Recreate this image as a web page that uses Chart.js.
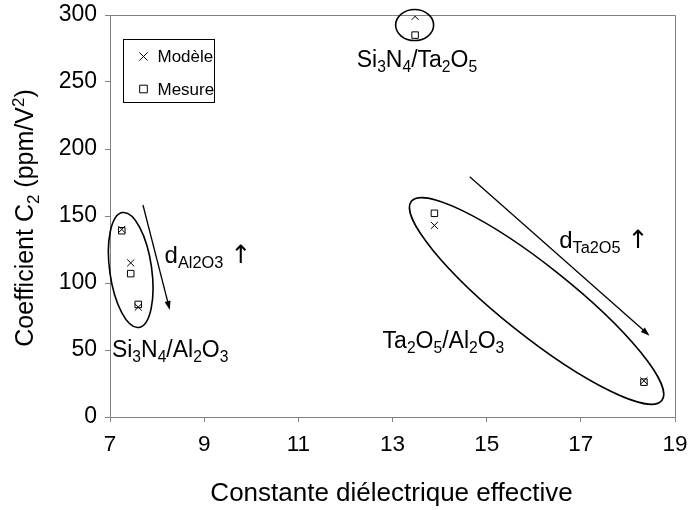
<!DOCTYPE html>
<html><head><meta charset="utf-8">
<script src="https://cdn.jsdelivr.net/npm/chart.js@4.4.0/dist/chart.umd.min.js"></script>
<style>html,body{margin:0;padding:0;background:#fff}#wrap{width:689px;height:510px}</style>
</head><body><div id="wrap"><canvas id="c" width="689" height="510"></canvas></div>
<script>
// ---- data ----
const seriesNames = ['Modèle', 'Mesure'];
const modeleX = [7.25, 7.44, 7.60, 13.48, 13.89, 18.34];
const modeleY = [140, 115, 82, 299, 143, 27];
const mesureX = [7.25, 7.44, 7.60, 13.48, 13.89, 18.34];
const mesureY = [139, 107, 84, 285, 152, 26];
const xTicks = [7, 9, 11, 13, 15, 17, 19];
const yTicks = [0, 50, 100, 150, 200, 250, 300];
const xTitle = 'Constante diélectrique effective';
const yTitle = [['Coefficient C', 0], ['2', -1], [' (ppm/V', 0], ['2', 1], [')', 0]];

const FONT = 'Arial, "Liberation Sans", sans-serif';
const AX = '#808080';

// annotation descriptions (data coordinates for anchors)
const ellipses = [
  {x: 7.44, y: 109.7, rx: 21, ry: 58, rot: -0.14},
  {x: 13.47, y: 292.5, rx: 19, ry: 15.5, rot: 0},
  {x: 16.06, y: 86.6, rx: 160, ry: 35, rot: 0.672}
];
const arrows = [
  {x1: 7.70, y1: 158.2, x2: 8.27, y2: 79.9},
  {x1: 14.64, y1: 179.3, x2: 18.46, y2: 60.7}
];
const labels = [
  {x: 12.24, y: 261.4, size: 23, parts: [['Si',0],['3',-1],['N',0],['4',-1],['/Ta',0],['2',-1],['O',0],['5',-1]]},
  {x: 7.04, y: 44.8, size: 23, parts: [['Si',0],['3',-1],['N',0],['4',-1],['/Al',0],['2',-1],['O',0],['3',-1]]},
  {x: 12.79, y: 51.5, size: 23, parts: [['Ta',0],['2',-1],['O',0],['5',-1],['/Al',0],['2',-1],['O',0],['3',-1]]},
  {x: 8.16, y: 115, size: 24, parts: [['d',0],['Al2O3',-1],[' ',0],['\u2191',2]]},
  {x: 16.54, y: 126, size: 24, parts: [['d',0],['Ta2O5',-1],[' ',0],['\u2191',2]]}
];

function drawRich(ctx, parts, x, y, size, measureOnly) {
  let cx = x;
  for (const [t, m] of parts) {
    let s = size, dy = 0, fam = FONT;
    if (m === -1) { s = size * 0.68; dy = size * 0.22; }
    else if (m === 1) { s = size * 0.68; dy = -size * 0.38; }
    else if (m === 2) { s = size * 1.05; fam = '"DejaVu Sans", sans-serif'; }
    ctx.font = s + 'px ' + fam;
    if (!measureOnly) ctx.fillText(t, cx, y + dy);
    cx += ctx.measureText(t).width;
  }
  return cx - x;
}

function drawMarker(ctx, style, x, y, r) {
  ctx.beginPath();
  if (style === 'crossRot') {
    const d = r * Math.cos(Math.PI / 4);
    ctx.moveTo(x - d, y - d); ctx.lineTo(x + d, y + d);
    ctx.moveTo(x - d, y + d); ctx.lineTo(x + d, y - d);
  } else {
    const s = r / Math.SQRT2;
    ctx.rect(x - s, y - s, 2 * s, 2 * s);
  }
  ctx.stroke();
}

const deco = {
  id: 'deco',
  afterDraw(chart) {
    const ctx = chart.ctx, a = chart.chartArea;
    const xs = chart.scales.x, ys = chart.scales.y;
    ctx.save();
    // frame top/right
    ctx.strokeStyle = AX; ctx.lineWidth = 1;
    ctx.beginPath();
    ctx.moveTo(a.left, a.top + 0.5); ctx.lineTo(a.right + 0.5, a.top + 0.5); ctx.lineTo(a.right + 0.5, a.bottom);
    ctx.stroke();
    // ellipses
    ctx.strokeStyle = '#000'; ctx.lineWidth = 1.6;
    for (const e of ellipses) {
      ctx.beginPath();
      ctx.ellipse(xs.getPixelForValue(e.x), ys.getPixelForValue(e.y), e.rx, e.ry, e.rot, 0, Math.PI * 2);
      ctx.stroke();
    }
    // arrows
    ctx.lineWidth = 1.3;
    for (const ar of arrows) {
      const x1 = xs.getPixelForValue(ar.x1), y1 = ys.getPixelForValue(ar.y1);
      const x2 = xs.getPixelForValue(ar.x2), y2 = ys.getPixelForValue(ar.y2);
      const ang = Math.atan2(y2 - y1, x2 - x1);
      const L = 9, W = 3;
      ctx.beginPath(); ctx.moveTo(x1, y1);
      ctx.lineTo(x2 - Math.cos(ang) * L * 0.6, y2 - Math.sin(ang) * L * 0.6); ctx.stroke();
      ctx.beginPath();
      ctx.moveTo(x2, y2);
      ctx.lineTo(x2 - Math.cos(ang) * L - Math.sin(ang) * W, y2 - Math.sin(ang) * L + Math.cos(ang) * W);
      ctx.lineTo(x2 - Math.cos(ang) * L + Math.sin(ang) * W, y2 - Math.sin(ang) * L - Math.cos(ang) * W);
      ctx.closePath(); ctx.fillStyle = '#000'; ctx.fill();
    }
    // labels
    ctx.fillStyle = '#000'; ctx.textBaseline = 'alphabetic'; ctx.textAlign = 'left';
    for (const l of labels) {
      drawRich(ctx, l.parts, xs.getPixelForValue(l.x), ys.getPixelForValue(l.y), l.size);
    }
    // x title
    ctx.font = '26px ' + FONT; ctx.textAlign = 'center';
    ctx.fillText(xTitle, (a.left + a.right) / 2 - 1, 501);
    // y title
    ctx.save();
    ctx.translate(33, (a.top + a.bottom) / 2 + 2);
    ctx.rotate(-Math.PI / 2);
    ctx.textAlign = 'left';
    const w = drawRich(ctx, yTitle, 0, 0, 25, true);
    drawRich(ctx, yTitle, -w / 2, 0, 25);
    ctx.restore();
    // legend
    const lx = a.left + 13.5, ly = a.top + 24.5, lw = 91, lh = 63;
    ctx.strokeStyle = '#000'; ctx.lineWidth = 1;
    ctx.strokeRect(lx, ly, lw, lh);
    ctx.textAlign = 'left'; ctx.textBaseline = 'middle'; ctx.font = '17px ' + FONT;
    chart.data.datasets.forEach((ds, i) => {
      const yy = ly + 17 + i * 32.5;
      drawMarker(ctx, ds.pointStyle, lx + 20, yy, ds.pointRadius + 0.8);
      ctx.fillText(ds.label, lx + 34, yy + 1);
    });
    ctx.restore();
  }
};

const pts = (xa, ya) => xa.map((v, i) => ({x: v, y: ya[i]}));

new Chart(document.getElementById('c'), {
  type: 'scatter',
  data: {
    datasets: [
      {label: seriesNames[0], data: pts(modeleX, modeleY), pointStyle: 'crossRot', pointRadius: 5,
       borderColor: '#000', backgroundColor: 'rgba(0,0,0,0)', borderWidth: 1, pointHoverRadius: 5},
      {label: seriesNames[1], data: pts(mesureX, mesureY), pointStyle: 'rect', pointRadius: 4.6,
       borderColor: '#000', backgroundColor: 'rgba(0,0,0,0)', borderWidth: 1, pointHoverRadius: 4.6}
    ]
  },
  options: {
    responsive: false, animation: false, devicePixelRatio: 1,
    layout: {padding: {top: 15, right: 14, left: 0, bottom: 0}},
    plugins: {legend: {display: false}, tooltip: {enabled: false}},
    scales: {
      x: {
        type: 'linear', min: 7, max: 19,
        afterBuildTicks: s => { s.ticks = xTicks.map(v => ({value: v})); },
        afterFit: s => { s.height = 93; s.paddingLeft = 0; s.paddingRight = 0; },
        grid: {drawOnChartArea: false, drawTicks: true, tickLength: 5, color: AX},
        border: {color: AX, width: 1},
        ticks: {color: '#000', font: {family: FONT, size: 22.5}, padding: 9, maxRotation: 0}
      },
      y: {
        type: 'linear', min: 0, max: 300,
        afterBuildTicks: s => { s.ticks = yTicks.map(v => ({value: v})); },
        afterFit: s => { s.width = 110; s.paddingTop = 0; s.paddingBottom = 0; },
        grid: {drawOnChartArea: false, drawTicks: true, tickLength: 5, color: AX},
        border: {color: AX, width: 1},
        ticks: {color: '#000', font: {family: FONT, size: 23}, padding: 8}
      }
    }
  },
  plugins: [deco]
});
</script>
</body></html>
